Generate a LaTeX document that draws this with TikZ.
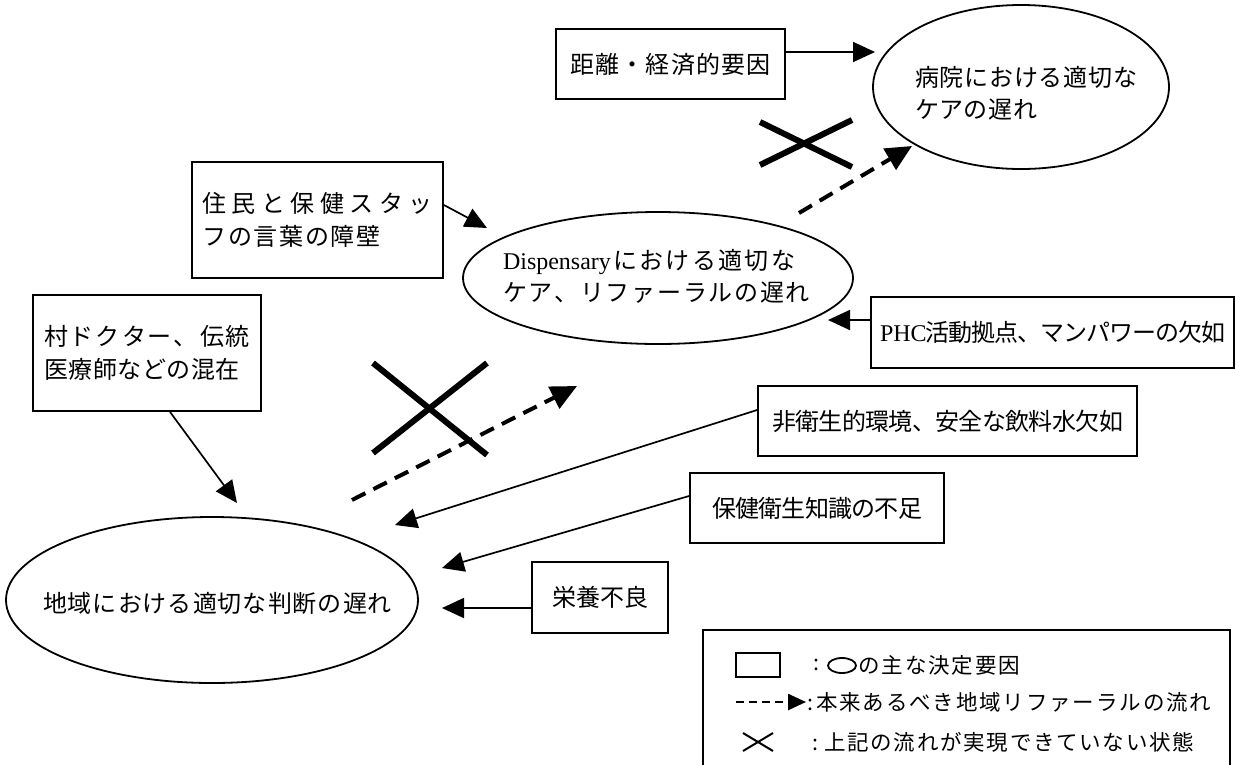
\documentclass[tikz,border=0pt]{standalone}
\usepackage{fontspec}
\setmainfont{Noto Sans CJK JP}
\newfontfamily\lat{Liberation Serif}
\usetikzlibrary{arrows.meta,calc,shapes.geometric}
\def\spl#1{\ifx#1\relax\else\hskip 0pt plus 1fil minus 1fil\relax#1\expandafter\spl\fi}
\def\spst#1{#1\spl}
\newcommand\sline[2]{\hbox to #1{\spst#2\relax}}
\begin{document}
\begin{tikzpicture}[x=1pt,y=-1pt,
  box/.style={draw,line width=1.8pt,inner sep=0pt,align=left,font=\fontsize{24}{33}\selectfont},
  oval/.style={draw,ellipse,line width=1.8pt,inner sep=0pt},
  otext/.style={inner sep=0pt,align=left,font=\fontsize{24}{32}\selectfont},
  arr/.style={line width=1.7pt,-{Triangle[length=22pt,width=20pt]}},
  darr/.style={line width=4pt,dash pattern=on 15pt off 9pt,-{Triangle[length=26pt,width=24pt]}},
  cross/.style={line width=6pt},
  ltext/.style={inner sep=0pt,anchor=west,font=\fontsize{21.5}{25}\selectfont}]
\useasboundingbox (0,0) rectangle (1236,764);
\fill[white] (0,0) rectangle (1236,764);
% boxes
\node[box,minimum width=229pt,minimum height=70pt] (bdist) at (670.5,64) {\sline{200pt}{距離・経済的要因}};
\node[box,minimum width=251pt,minimum height=116pt] (bjumin) at (317.5,220) {\sline{230pt}{住民と保健スタッ}\\\sline{178pt}{フの言葉の障壁}};
\node[box,minimum width=228pt,minimum height=116pt] (bvill) at (147,353) {\sline{206pt}{村ドクター、伝統}\\\sline{196pt}{医療師などの混在}};
\node[box,minimum width=363pt,minimum height=71pt] (bphc) at (1052.5,332.5) {\hbox to 345pt{{\lat PHC}\spl 活動拠点、マンパワーの欠如\relax}};
\node[box,minimum width=379pt,minimum height=70pt] (bsan) at (947.5,421) {\sline{351pt}{非衛生的環境、安全な飲料水欠如}};
\node[box,minimum width=254pt,minimum height=70pt] (bknow) at (817,508) {\sline{210pt}{保健衛生知識の不足}};
\node[box,minimum width=136pt,minimum height=71pt] (bnut) at (600,597.5) {\sline{96pt}{栄養不良}};
% ellipses
\node[oval,minimum width=296pt,minimum height=164pt] (ehosp) at (1021,87) {};
\node[otext] (thosp) at (1026,93) {\sline{222pt}{病院における適切な}\\\sline{122pt}{ケアの遅れ}};
\node[oval,minimum width=390pt,minimum height=132pt] (edisp) at (658,278) {};
\node[otext] (tdisp) at (656.5,276.5) {\hbox to 292pt{{\lat Dispensary}\spl における適切な\relax}\\\sline{307pt}{ケア、リファーラルの遅れ}};
\node[oval,minimum width=412pt,minimum height=166pt] (eloc) at (212,600) {};
\node[otext] (tloc) at (217.5,603) {\sline{349pt}{地域における適切な判断の遅れ}};
% solid arrows
\coordinate (t1) at (875,52);
\draw[arr] (bdist.east |- t1) -- (t1);
\coordinate (t2) at (487,228);
\draw[arr] ([yshift=15pt]bjumin.east) -- (t2);
\coordinate (t3) at (828,320);
\draw[arr] (bphc.west |- t3) -- (t3);
\coordinate (t4) at (237,503);
\draw[arr] ([xshift=23pt]bvill.south) -- (t4);
\coordinate (t5) at (395,525);
\draw[arr] ([yshift=11pt]bsan.west) -- (t5);
\coordinate (t6) at (442,568);
\draw[arr] ([yshift=12pt]bknow.west) -- (t6);
\coordinate (t7) at (442,608);
\draw[arr] (bnut.west |- t7) -- (t7);
% dashed referral arrows
\coordinate (d1s) at (799,213); \coordinate (d1e) at (912,146);
\draw[darr] (d1s) -- (d1e);
\coordinate (d2s) at (352,500); \coordinate (d2e) at (577,386);
\draw[darr] (d2s) -- (d2e);
% crosses
\draw[cross] (760,122) -- (852,167);
\draw[cross] (760,165) -- (852,120);
\draw[cross] (373,363) -- (487,455);
\draw[cross] (487,363) -- (373,453);
% legend
\node[draw,line width=1.8pt,minimum width=527pt,minimum height=160pt,inner sep=0pt] (legend) at (966.5,710) {};
\node[draw,line width=2.4pt,minimum width=44pt,minimum height=24pt,inner sep=0pt] (lgrect) at (758,665) {};
\node[ltext] (lgc1) at (813,665) {:};
\node[draw,ellipse,line width=1.8pt,minimum width=28pt,minimum height=15pt,inner sep=0pt] (lgell) at (842,665.5) {};
\node[ltext] (lgt1) at (858,665) {\sline{162pt}{の主な決定要因}};
\coordinate (lgd1) at (736,702); \coordinate (lgd2) at (806,702);
\draw[line width=2.5pt,dash pattern=on 8pt off 5pt,-{Triangle[length=18pt,width=16pt]}] (lgd1) -- (lgd2);
\node[ltext] (lgt2) at (807,702) {:\hspace{3pt}\sline{395pt}{本来あるべき地域リファーラルの流れ}};
\draw[line width=2pt] (743,733) -- (773,751);
\draw[line width=2pt] (743,751) -- (773,733);
\node[ltext] (lgt3) at (812,742) {:\hspace{6pt}\sline{370pt}{上記の流れが実現できていない状態}};
\end{tikzpicture}
\end{document}
